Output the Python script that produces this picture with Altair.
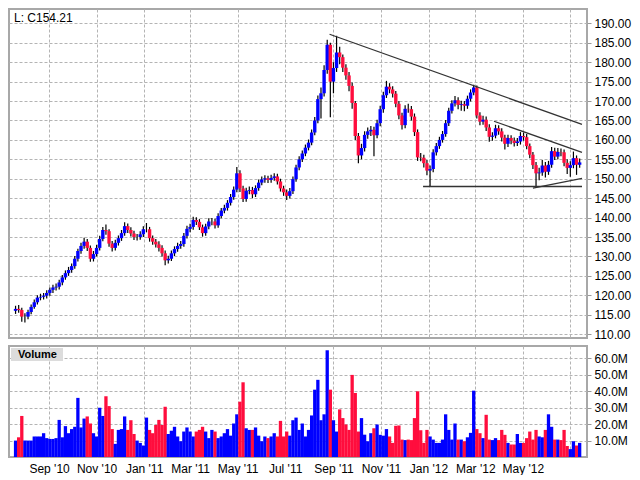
import altair as alt
import pandas as pd
import numpy as np

# ---------------- data ----------------
start_date = "2010-07-20"   # one bar every 4 calendar days
first_open = 116.0

closes = [116.5,116.2,114.5,114.5,115.7,117.0,118.2,119.4,119.6,119.9,
120.6,121.4,122.0,122.2,123.3,124.6,125.7,126.5,127.5,129.4,
131.4,132.7,133.8,132.2,129.4,130.6,132.2,134.5,136.8,136.5,
133.3,132.2,133.5,134.7,136.0,137.8,136.8,135.9,135.0,135.0,
135.7,137.0,137.0,134.7,133.8,133.1,132.2,130.8,129.0,129.4,
130.8,131.9,132.7,133.2,135.3,137.1,137.6,139.4,138.9,137.5,
136.0,137.7,139.0,139.0,138.0,140.4,141.8,142.5,143.8,145.3,
147.2,151.4,147.5,144.8,146.9,147.1,146.0,147.6,149.0,149.8,
150.1,149.7,150.2,150.6,149.3,147.5,146.5,145.6,146.8,149.9,
152.9,155.0,156.5,158.0,159.3,161.9,165.0,170.5,172.0,178.0,
184.5,175.0,178.5,182.5,181.3,178.6,176.6,173.9,169.5,161.0,
156.0,157.9,161.3,162.2,162.6,161.2,164.3,167.9,171.5,173.7,
173.0,171.9,169.3,166.3,163.8,168.0,167.9,166.0,162.0,155.5,
155.4,154.0,152.1,152.5,156.8,158.4,160.0,161.5,164.3,167.5,
169.4,170.2,169.0,169.2,168.8,170.6,172.2,173.5,166.3,164.7,
165.2,163.2,160.8,161.1,163.0,162.2,160.6,159.0,160.5,159.8,
159.2,159.6,161.0,160.7,158.4,156.2,153.5,151.4,151.6,153.4,
151.8,153.6,157.1,155.7,156.9,156.8,154.1,152.8,153.5,155.3,
153.6,154.21]

highs = [117.3,117.5,116.8,115.4,116.3,117.6,118.9,120.0,120.4,120.6,
121.3,122.0,122.7,123.0,124.0,125.2,126.4,127.3,128.2,130.1,
132.0,133.5,134.8,134.5,132.8,131.4,133.0,135.3,137.6,138.2,
137.0,134.0,134.3,135.4,136.8,138.8,138.5,137.5,136.6,135.8,
136.5,137.8,138.6,137.6,135.4,134.5,133.9,132.9,131.5,130.2,
131.5,132.6,133.5,134.0,136.0,137.9,138.4,140.2,140.1,139.6,
138.2,138.4,139.8,139.9,139.7,141.1,142.5,143.3,144.5,146.1,
148.0,153.0,152.2,148.2,147.7,148.0,147.9,148.3,149.8,150.6,
150.9,150.8,151.0,151.4,151.3,150.0,148.2,147.2,147.6,150.6,
153.6,155.8,157.3,158.8,160.1,162.7,165.9,171.4,173.5,179.2,
185.8,185.0,180.0,186.8,184.0,182.0,179.5,177.5,174.8,170.0,
161.8,159.0,162.2,163.2,163.6,163.4,165.2,168.8,172.4,175.2,
174.6,173.8,172.6,170.0,167.0,168.9,169.3,168.7,166.8,162.7,
156.6,156.2,154.8,153.4,157.6,159.2,160.8,162.3,165.1,168.3,
170.2,171.3,171.0,170.1,170.0,171.4,173.0,174.2,174.0,167.1,
166.2,166.0,164.0,162.0,163.9,163.8,163.0,161.3,161.3,161.2,
160.6,160.5,162.0,161.9,161.5,159.1,156.9,154.3,152.8,154.8,
154.3,154.6,158.2,158.0,157.9,157.8,157.5,155.0,154.5,157.0,
156.0,155.2]

lows = [115.2,115.5,113.2,113.0,113.8,115.1,116.5,117.6,118.7,118.9,
119.2,119.9,120.6,121.2,121.5,122.6,124.0,125.0,125.8,126.8,
128.7,130.7,132.0,131.4,128.6,128.7,130.0,131.5,133.9,135.6,
132.5,131.3,131.5,132.8,134.0,135.3,136.0,135.1,134.2,134.1,
134.3,135.0,136.2,133.8,133.0,132.3,131.3,130.0,127.7,128.2,
128.8,130.1,131.2,132.0,132.5,134.6,136.2,136.9,138.1,136.8,
135.1,135.3,137.0,138.0,137.2,137.4,139.8,141.1,141.8,143.1,
144.6,146.5,146.6,144.0,144.1,146.0,145.0,145.3,146.9,148.3,
149.0,148.9,149.0,149.5,148.5,146.7,145.6,144.5,144.9,146.1,
149.2,152.2,154.3,155.8,157.3,158.6,161.2,164.3,165.5,171.2,
177.0,165.8,172.0,177.5,179.5,177.5,175.5,172.5,168.0,160.0,
154.0,155.0,157.0,160.3,161.0,155.8,160.4,163.5,167.0,170.8,
172.0,170.9,168.4,165.3,162.7,163.0,167.0,165.0,161.0,154.6,
154.5,152.9,150.9,148.0,151.7,156.0,157.7,159.3,160.8,163.6,
166.8,168.6,167.9,167.5,167.4,168.0,169.9,171.5,165.5,163.8,
163.9,162.3,159.5,159.8,160.4,161.3,159.6,157.5,158.2,158.9,
158.3,158.4,158.8,159.8,157.6,155.3,152.5,148.0,149.6,150.8,
150.3,151.0,152.8,154.8,155.0,155.8,153.2,151.2,150.5,152.7,
151.0,152.8]

volumes_m = [10,12,25,10,10,10,12.5,12.5,12.5,14.5,
11.5,11,11,11.5,22.6,12,18.8,14.5,17,18.4,
36,18,23.4,24.7,20.4,14.5,12.5,30,25,37,
31,17,8,16.5,17,24.7,16.5,22.4,14,10,
8.6,7,24,16.5,14.5,19.5,22.6,19.5,30.6,14,
16,18.4,12.5,9.6,15.5,18,15.5,12.5,15.5,16.5,
18.4,15.5,11.5,16.5,15.5,11.5,12.5,14.5,17,13,
20.4,26,33.7,45.5,17.5,16.5,16.5,18,13,9.6,
12.5,11.5,12.5,14.5,12.5,22,12.5,15.5,13,22.4,
24,16.5,20.4,12.5,16.5,25.3,41,47,22.4,26,
65,41,22.4,15.5,29,23.7,19.8,16.5,50,39,
15.5,23.7,13.6,9.6,14.5,17.5,19.8,13.5,13,17,
12.5,8.6,19,19.2,10.6,10.3,10.6,10.3,23.7,40,
16.3,8.6,16.5,12.5,10.6,8.6,8.6,10.6,26,16.5,
10.6,20.4,10.6,10.6,9.6,12,14.7,40.4,17,14.5,
11.5,25.7,10.6,10.3,11.5,10.3,16.5,13.5,8.6,7.6,
7.6,14,8.6,8.6,11.5,15.5,10.6,16.5,12.5,12,
16.5,26,18.4,10.6,10.6,10.3,16.5,6.7,4.8,9.6,
7,8.6]

# trend lines: (segment, date, price)
trend_seg = [1, 1, 2, 2, 3, 3, 4, 4]
trend_date = ["2011-08-27", "2012-07-16", "2012-03-25", "2012-07-16",
              "2011-12-25", "2012-07-16", "2012-05-14", "2012-07-16"]
trend_price = [187.2, 164.0, 164.8, 156.8, 148.0, 148.0, 147.6, 150.1]

x_grid_dates = ["2010-09-01", "2010-11-01", "2011-01-01", "2011-03-01",
                "2011-05-01", "2011-07-01", "2011-09-01", "2011-11-01",
                "2012-01-01", "2012-03-01", "2012-05-01", "2012-07-01"]
price_ticks = list(range(110, 191, 5))
volume_ticks = [10, 20, 30, 40, 50, 60]

# ---------------- build tables ----------------
dates = pd.date_range(start_date, periods=len(closes), freq="4D").strftime("%Y-%m-%d")
opens = [first_open] + closes[:-1]
df = pd.DataFrame({"date": dates, "o": opens, "c": closes, "hi": highs,
                   "lo": lows, "vol": volumes_m})
df["dir"] = np.where(df["c"] >= df["o"], "up", "down")

trend = pd.DataFrame({"seg": trend_seg, "date": trend_date, "p": trend_price})


def ms(s):
    return int(pd.Timestamp(s).value // 10**6)


xdomain = [ms("2010-07-18"), ms("2012-07-16")]
xticks = [ms(d) for d in x_grid_dates]
cutoff = ms("2012-06-15")

RED = "#ff0d3d"
BLUE = "#0000ff"
GRID = "#b4b4b4"
FONT = "Liberation Sans"

xscale = alt.Scale(type="utc", domain=xdomain)
color = alt.Color("dir:N", scale=alt.Scale(domain=["up", "down"], range=[BLUE, RED]),
                  legend=None)

x_price = alt.X("date:T", scale=xscale,
                axis=alt.Axis(values=xticks, grid=True, gridDash=[3, 2], gridColor=GRID,
                              labels=False, ticks=False, domain=False, title=None))
label_expr = f"datum.value > {cutoff} ? '' : utcFormat(datum.value, \"%b '%y\")"
x_vol = alt.X("date:T", scale=xscale,
              axis=alt.Axis(values=xticks, grid=True, gridDash=[3, 2], gridColor=GRID,
                            labelExpr=label_expr, ticks=False, domain=False, title=None,
                            labelFontSize=12, labelColor="black", labelPadding=6,
                            labelFont=FONT))

yscale = alt.Scale(domain=[109.0, 193.7], nice=False, zero=False)
yaxis = alt.Axis(orient="right", values=price_ticks, format=".2f", grid=True,
                 gridDash=[3, 2], gridColor=GRID, ticks=True, tickSize=4,
                 tickColor="#999999", domain=False,
                 labelFontSize=12, labelColor="black", labelFont=FONT,
                 labelPadding=3, title=None)

base = alt.Chart(df)

wicks = base.mark_rule(color="black", strokeWidth=1.2).encode(
    x=x_price,
    y=alt.Y("lo:Q", scale=yscale, axis=yaxis),
    y2="hi:Q",
)
bodies = base.mark_bar(size=3.4).encode(
    x=x_price,
    y=alt.Y("o:Q", scale=yscale, axis=yaxis),
    y2="c:Q",
    color=color,
)
lines = alt.Chart(trend).mark_line(color="#333333", strokeWidth=1.3, clip=True).encode(
    x=x_price,
    y=alt.Y("p:Q", scale=yscale, axis=yaxis),
    detail="seg:N",
)
last_label = alt.Chart(pd.DataFrame({"t": [f"L: C{closes[-1]:.2f}"]})).mark_text(
    align="left", baseline="middle", fontSize=12, font=FONT, color="black"
).encode(x=alt.value(5), y=alt.value(9), text="t:N")

price = alt.layer(wicks, bodies, lines, last_label).properties(width=578, height=329)

vscale = alt.Scale(domain=[0, 67.6], nice=False)
vaxis = alt.Axis(orient="right", values=volume_ticks,
                 labelExpr="format(datum.value, '.1f') + 'M'", grid=True,
                 gridDash=[3, 2], gridColor=GRID, ticks=True, tickSize=4,
                 tickColor="#999999", domain=False,
                 labelFontSize=12, labelColor="black", labelFont=FONT,
                 labelPadding=3, title=None)

vbars = base.mark_bar(size=3.3).encode(
    x=x_vol,
    y=alt.Y("vol:Q", scale=vscale, axis=vaxis),
    color=color,
)
vbox = alt.Chart(pd.DataFrame({"t": ["Volume"]})).mark_rect(color="#dcdcdc").encode(
    x=alt.value(2), x2=alt.value(54), y=alt.value(2), y2=alt.value(15))
vtext = alt.Chart(pd.DataFrame({"t": ["Volume"]})).mark_text(
    align="left", baseline="middle", fontSize=11, fontWeight="bold", font=FONT,
    color="black").encode(x=alt.value(9), y=alt.value(9), text="t:N")

volume = alt.layer(vbars, vbox, vtext).properties(width=578, height=111)

chart = alt.vconcat(price, volume, spacing=3).properties(
    padding=0, background="white"
).configure_view(stroke="#a8a8a8", strokeWidth=2).configure_concat(spacing=3)

chart.save("out.html", embed_options={"renderer": "svg", "actions": False})
